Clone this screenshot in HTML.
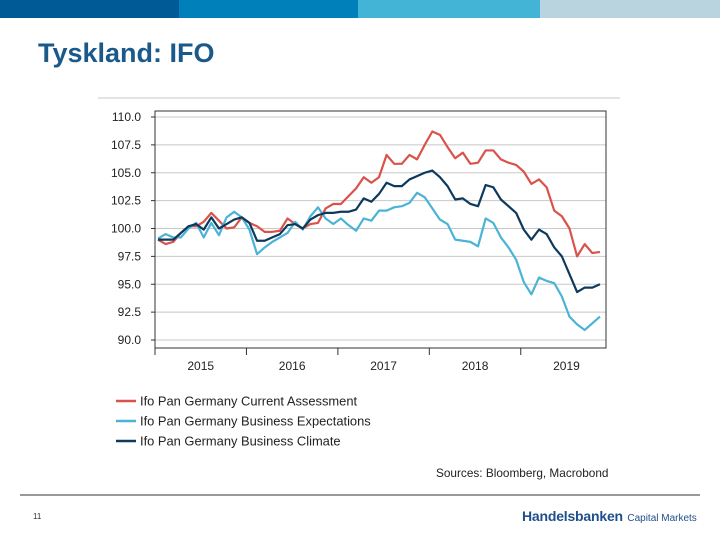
<!DOCTYPE html>
<html><head><meta charset="utf-8"><style>
body{margin:0;width:720px;height:540px;background:#fff;font-family:"Liberation Sans",sans-serif;overflow:hidden;position:relative}
.bar{position:absolute;top:0;height:18px}
</style></head><body>
<div class="bar" style="left:0;width:179px;background:#005a96"></div>
<div class="bar" style="left:179px;width:179px;background:#0080ba"></div>
<div class="bar" style="left:358px;width:182px;background:#44b4d6"></div>
<div class="bar" style="left:540px;width:180px;background:#b9d3df"></div>
<div style="position:absolute;left:38px;top:38px;font-size:27px;font-weight:bold;color:#1a5a8a">Tyskland: IFO</div>
<svg id="chart" width="720" height="540" style="position:absolute;left:0;top:0" font-family="Liberation Sans, sans-serif"></svg>
<div style="position:absolute;left:33px;top:512px;font-size:8px;color:#333">11</div>
<div style="position:absolute;left:522px;top:508px;color:#1f4e8c;white-space:nowrap"><b style="font-size:14px;letter-spacing:-0.2px">Handelsbanken</b> <span style="font-size:10px">Capital Markets</span></div>
<script>
const years=["2015","2016","2017","2018","2019"];
const yTicks=[90,92.5,95,97.5,100,102.5,105,107.5,110];
const current=[99.0,98.6,98.8,99.6,100.2,100.2,100.6,101.4,100.7,100.0,100.1,101.0,100.5,100.2,99.7,99.7,99.8,100.9,100.4,100.0,100.4,100.5,101.8,102.2,102.2,102.9,103.6,104.6,104.1,104.6,106.6,105.8,105.8,106.6,106.2,107.5,108.7,108.4,107.3,106.3,106.8,105.8,105.9,107.0,107.0,106.2,105.9,105.7,105.1,104.0,104.4,103.7,101.6,101.1,100.0,97.5,98.6,97.8,97.9];
const expectations=[99.1,99.5,99.2,99.2,100.0,100.5,99.2,100.5,99.4,101.0,101.5,101.0,99.9,97.7,98.3,98.8,99.2,99.6,100.6,99.9,101.1,101.9,100.9,100.4,100.9,100.3,99.8,100.9,100.7,101.6,101.6,101.9,102.0,102.3,103.2,102.8,101.8,100.8,100.4,99.0,98.9,98.8,98.4,100.9,100.5,99.2,98.3,97.2,95.2,94.1,95.6,95.3,95.1,93.9,92.1,91.4,90.9,91.5,92.1];
const climate=[99.0,99.0,99.0,99.6,100.2,100.4,99.9,101.0,100.0,100.4,100.8,101.0,100.5,98.9,98.9,99.2,99.5,100.3,100.4,100.0,100.8,101.2,101.4,101.4,101.5,101.5,101.7,102.7,102.4,103.1,104.1,103.8,103.8,104.4,104.7,105.0,105.2,104.6,103.8,102.6,102.7,102.2,102.0,103.9,103.7,102.6,102.0,101.4,99.9,99.0,99.9,99.5,98.3,97.5,95.9,94.3,94.7,94.7,95.0];
const seriesNames=["Ifo Pan Germany Current Assessment","Ifo Pan Germany Business Expectations","Ifo Pan Germany Business Climate"];
const NS="http://www.w3.org/2000/svg",svg=document.getElementById("chart");
const X0=155,X1=606,YT=117,YB=340,monthW=7.62;
const xm=i=>158+i*monthW;
const yv=v=>YB-(v-90)/20*(YB-YT);
function mk(t,a,p){const e=document.createElementNS(NS,t);for(const k in a)e.setAttribute(k,a[k]);(p||svg).appendChild(e);return e;}
let e=mk("line",{x1:98,y1:98,x2:620,y2:98,stroke:"#c8c8c8"});

yTicks.forEach(v=>{
 let g=mk("line",{x1:X0,y1:yv(v),x2:X1,y2:yv(v),stroke:"#c8c8c8","stroke-width":1});
 
 let tk=mk("line",{x1:X0-4,y1:yv(v),x2:X0,y2:yv(v),stroke:"#333"});
 
 let t=mk("text",{x:141,y:yv(v)+4,"text-anchor":"end","font-size":12,fill:"#222"});t.textContent=v.toFixed(1);
 
});
let fr=mk("rect",{x:X0,y:111,width:X1-X0,height:237,fill:"none",stroke:"#333","stroke-width":1});

years.forEach((y,k)=>{
 const xs=X0+k*12*monthW;
 let tk=mk("line",{x1:xs,y1:348,x2:xs,y2:355,stroke:"#333"});
 
 let t=mk("text",{x:xs+6*monthW,y:370,"text-anchor":"middle","font-size":12,fill:"#222"});t.textContent=y;
 
});
const cols=["#d9534a","#4bb3d6","#0d3a5c"];
[current,expectations,climate].forEach((s,k)=>{
 let p=mk("polyline",{points:s.map((v,i)=>xm(i)+","+yv(v)).join(" "),fill:"none",stroke:cols[k],"stroke-width":2.2,"stroke-linejoin":"round"});
 
 const ly=401+k*20;
 let l=mk("line",{x1:116,y1:ly,x2:136,y2:ly,stroke:cols[k],"stroke-width":2.5});
 
 let t=mk("text",{x:140,y:ly+4.5,"font-size":12.9,fill:"#222"});t.textContent=seriesNames[k];
 
});
let src=mk("text",{x:436,y:477,"font-size":11.8,fill:"#222"});src.textContent="Sources: Bloomberg, Macrobond";

let bl=mk("line",{x1:20,y1:495,x2:700,y2:495,stroke:"#333"});

</script>
</body></html>
